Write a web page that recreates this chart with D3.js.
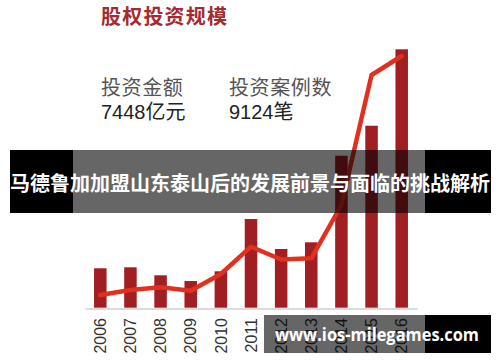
<!DOCTYPE html>
<html><head><meta charset="utf-8">
<script src="https://cdn.jsdelivr.net/npm/d3@7/dist/d3.min.js"></script>
<style>html,body{margin:0;padding:0;background:#fff;}svg{display:block;}</style>
</head><body>
<script>
const years = ["2006","2007","2008","2009","2010","2011","2012","2013","2014","2015","2016"];
const amounts = [1136, 1164, 934, 769, 1049, 2556, 1692, 1885, 4381, 5245, 7448]; // 投资金额 (亿元)
const counts = [460, 642, 740, 616, 1222, 2211, 1747, 1791, 3723, 8435, 9124];    // 投资案例数 (笔)
const title = "股权投资规模";
const statLabels = ["投资金额", "投资案例数"];
const statValues = ["7448亿元", "9124笔"];
const bannerText = "马德鲁加加盟山东泰山后的发展前景与面临的挑战解析";
const watermark = "www.ios-milegames.com";

const W = 500, H = 362;
const svg = d3.select("body").append("svg").attr("width", W).attr("height", H);
svg.append("rect").attr("width", W).attr("height", H).attr("fill", "#fff");

const baseY = 307.7;
const x = d3.scaleBand().domain(years).range([85, 417]).paddingInner(0.585).paddingOuter(0.3);
const yA = d3.scaleLinear().domain([0, 7448]).range([baseY, 49.3]);
const yC = d3.scaleLinear().domain([0, 9124]).range([baseY, 56]);

// bars
svg.append("g").selectAll("rect").data(years).join("rect")
  .attr("x", d => x(d)).attr("width", x.bandwidth())
  .attr("y", (d, i) => yA(amounts[i])).attr("height", (d, i) => baseY - yA(amounts[i]))
  .attr("fill", "#a11e23");

// baseline axis
const axis = svg.append("g").attr("transform", `translate(0,${baseY + 0.8})`)
  .call(d3.axisBottom(x).tickSize(0).tickPadding(0).tickFormat(""));
axis.select(".domain").attr("stroke", "#cfcfcf").attr("stroke-width", 1.6);
axis.selectAll(".tick").remove();

// year labels
svg.append("g").selectAll("text").data(years).join("text")
  .attr("transform", d => `translate(${x(d) + x.bandwidth() / 2},318) rotate(-90)`)
  .attr("text-anchor", "end").attr("dy", "0.36em")
  .attr("font-family", "'Liberation Sans', Arial, sans-serif").attr("font-size", 16)
  .attr("fill", "#333").text(d => d);

// line
const line = d3.line().x((d, i) => x(years[i]) + x.bandwidth() / 2).y(d => yC(d));
svg.append("path").datum(counts).attr("d", line)
  .attr("fill", "none").attr("stroke", "#e2301f").attr("stroke-width", 4.5)
  .attr("stroke-linejoin", "round").attr("stroke-linecap", "round");

// title and stats
const cjk = "'Liberation Sans', 'Noto Sans CJK SC', sans-serif";
svg.append("text").attr("x", 101).attr("y", 24).attr("font-family", cjk)
  .attr("font-size", 20).attr("font-weight", "bold").attr("letter-spacing", 1.2)
  .attr("fill", "#a52a30").text(title);
const statX = [101, 229];
statLabels.forEach((s, i) => {
  svg.append("text").attr("x", statX[i]).attr("y", 95).attr("font-family", cjk)
    .attr("font-size", 20).attr("letter-spacing", 0.6).attr("fill", "#555").text(s);
  svg.append("text").attr("x", statX[i]).attr("y", 119).attr("font-family", cjk)
    .attr("font-size", 20).attr("fill", "#222").text(statValues[i]);
});

// banner overlay
svg.append("rect").attr("x", 10).attr("y", 150).attr("width", 481).attr("height", 63).attr("fill", "#000");
svg.append("rect").attr("x", 73).attr("y", 150).attr("width", 352).attr("height", 63).attr("fill", "#fff");
svg.selectAll(".dummy").remove();
// redraw chart portion under banner darkened: use a clip of chart elements with a semi-transparent layer
const clipB = svg.append("clipPath").attr("id", "cb");
clipB.append("rect").attr("x", 73).attr("y", 150).attr("width", 352).attr("height", 63);
const gB = svg.append("g").attr("clip-path", "url(#cb)");
gB.selectAll("rect").data(years).join("rect")
  .attr("x", d => x(d)).attr("width", x.bandwidth())
  .attr("y", (d, i) => yA(amounts[i])).attr("height", (d, i) => baseY - yA(amounts[i]))
  .attr("fill", "#a11e23");
gB.append("path").datum(counts).attr("d", line)
  .attr("fill", "none").attr("stroke", "#e2301f").attr("stroke-width", 4.5)
  .attr("stroke-linejoin", "round").attr("stroke-linecap", "round");
svg.append("rect").attr("x", 73).attr("y", 150).attr("width", 352).attr("height", 63).attr("fill", "rgba(0,0,0,0.6)");
svg.append("text").attr("x", 250).attr("y", 184).attr("text-anchor", "middle").attr("dy", "0.35em")
  .attr("font-family", "'Noto Sans CJK SC', sans-serif").attr("font-weight", "bold").attr("font-size", 20)
  .attr("textLength", 480).attr("lengthAdjust", "spacingAndGlyphs")
  .attr("fill", "#fff").text(bannerText);

// watermark
svg.append("rect").attr("x", 264).attr("y", 315).attr("width", 161).attr("height", 38).attr("fill", "rgba(0,0,0,0.6)");
svg.append("rect").attr("x", 425).attr("y", 315).attr("width", 66).attr("height", 38).attr("fill", "#000");
svg.append("text").attr("x", 275).attr("y", 341)
  .attr("font-family", "'Open Sans', 'DejaVu Sans', sans-serif").attr("font-weight", "bold").attr("font-size", 18)
  .attr("textLength", 204).attr("lengthAdjust", "spacingAndGlyphs")
  .attr("fill", "#fff").text(watermark);
</script>
</body></html>
